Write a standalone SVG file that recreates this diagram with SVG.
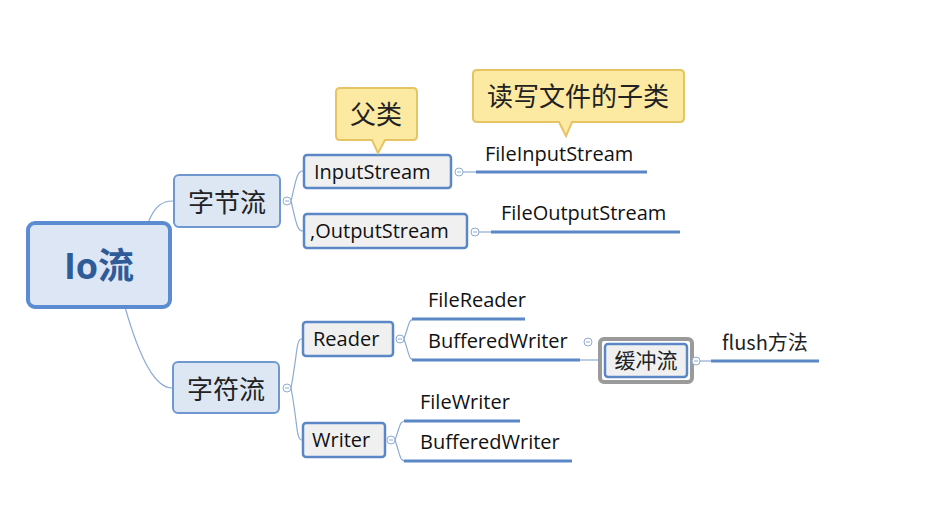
<svg xmlns="http://www.w3.org/2000/svg" width="950" height="510" viewBox="0 0 950 510">
<style>
.t{font-family:"Open Sans","Noto Sans CJK SC",sans-serif;fill:#111;}
.cn{font-family:"Noto Sans CJK SC",sans-serif;fill:#222;}
.conn{fill:none;stroke:#8eabd3;stroke-width:1.2;}
.leaf{stroke:#5b87c6;stroke-width:3;}
.box2{fill:#f0f0f0;stroke:#5b87c6;stroke-width:2.5;}
.box1{fill:#dde7f4;stroke:#6f98d0;stroke-width:2;}
.call{fill:#fdeaa2;stroke:#e7c463;stroke-width:2;}
.col circle{fill:#fff;stroke:#8eabd3;stroke-width:1;}
.col line{stroke:#8eabd3;stroke-width:1;}
</style>
<rect width="950" height="510" fill="#fff"/>
<g id="connectors">
<path class="conn" d="M148,223 C155,205 163,201 173,201"/>
<path class="conn" d="M125,307 C140,360 155,388 172,388"/>
<path class="conn" d="M291,201 C296,180 297,171 303,171"/>
<path class="conn" d="M291,201 C296,222 297,231 303,231"/>
<path class="conn" d="M291,388 C298,350 296,339 302,339"/>
<path class="conn" d="M291,388 C298,425 296,440 302,440"/>
<path class="conn" d="M404,339 C410,322 408,319 416,319"/>
<path class="conn" d="M404,339 C410,356 408,360 416,360"/>
<path class="conn" d="M395,440 C401,424 399,421 407,421"/>
<path class="conn" d="M395,440 C401,457 399,461 407,461"/>
<line class="conn" x1="463" y1="172" x2="478" y2="172"/>
<line class="conn" x1="479" y1="232" x2="493" y2="232"/>
<line class="conn" x1="580" y1="360" x2="602" y2="360"/>
<line class="conn" x1="700" y1="361" x2="712" y2="361"/>
</g>
<g id="root">
<rect x="28" y="223" width="142" height="84" rx="7" fill="#dce6f4" stroke="#5b8bd0" stroke-width="4"/>
<text x="99" y="279" text-anchor="middle" font-family="'Open Sans','Noto Sans CJK SC',sans-serif" font-weight="bold" font-size="36" fill="#2f5b98">Io流</text>
</g>
<g id="zijieliu">
<rect class="box1" x="174" y="175" width="106" height="52" rx="5"/>
<text class="cn" x="227" y="212" text-anchor="middle" font-size="26">字节流</text>
</g>
<g id="zifuliu">
<rect class="box1" x="173" y="362" width="106" height="51" rx="5"/>
<text class="cn" x="226" y="399" text-anchor="middle" font-size="26">字符流</text>
</g>
<g id="inputstream">
<rect class="box2" x="304" y="155" width="147" height="33" rx="3"/>
<text class="t" x="314" y="179" font-size="20">InputStream</text>
</g>
<g id="outputstream">
<rect class="box2" x="304" y="214" width="163" height="34" rx="3"/>
<text class="t" x="310" y="238" font-size="20">,OutputStream</text>
</g>
<g id="reader">
<rect class="box2" x="303" y="322" width="90" height="34" rx="3"/>
<text class="t" x="313" y="346" font-size="20">Reader</text>
</g>
<g id="writer">
<rect class="box2" x="303" y="423" width="82" height="34" rx="3"/>
<text class="t" x="312" y="447" font-size="20">Writer</text>
</g>
<g id="huanchongliu">
<rect x="600" y="339" width="92" height="43" rx="4" fill="none" stroke="#9a9a9a" stroke-width="4"/>
<rect x="605" y="344" width="82" height="33" rx="3" fill="#f0f0f0" stroke="#5b87c6" stroke-width="2.5"/>
<text class="cn" x="646" y="368" text-anchor="middle" font-size="21">缓冲流</text>
</g>
<g id="fileinputstream">
<text class="t" x="485" y="161" font-size="20">FileInputStream</text>
<line class="leaf" x1="476" y1="172" x2="647" y2="172"/>
</g>
<g id="fileoutputstream">
<text class="t" x="501" y="220" font-size="20">FileOutputStream</text>
<line class="leaf" x1="491" y1="232" x2="680" y2="232"/>
</g>
<g id="filereader">
<text class="t" x="428" y="307" font-size="20">FileReader</text>
<line class="leaf" x1="412" y1="319" x2="525" y2="319"/>
</g>
<g id="bufferedwriter1">
<text class="t" x="428" y="348" font-size="20">BufferedWriter</text>
<line class="leaf" x1="412" y1="360" x2="580" y2="360"/>
</g>
<g id="flush">
<text class="cn" x="722" y="350" font-size="20">flush方法</text>
<line class="leaf" x1="711" y1="361" x2="819" y2="361"/>
</g>
<g id="filewriter">
<text class="t" x="420" y="409" font-size="20">FileWriter</text>
<line class="leaf" x1="404" y1="421" x2="520" y2="421"/>
</g>
<g id="bufferedwriter2">
<text class="t" x="420" y="449" font-size="20">BufferedWriter</text>
<line class="leaf" x1="404" y1="461" x2="572" y2="461"/>
</g>
<g id="callout-fulei">
<path class="call" d="M340,88 H413 Q417,88 417,92 V136 Q417,140 413,140 H385 L378,153 L372,140 H340 Q336,140 336,136 V92 Q336,88 340,88 Z"/>
<text class="cn" x="376" y="124" text-anchor="middle" font-size="26">父类</text>
</g>
<g id="callout-zilei">
<path class="call" d="M477,70 H680 Q684,70 684,74 V118 Q684,122 680,122 H572 L566,136 L559,122 H477 Q473,122 473,118 V74 Q473,70 477,70 Z"/>
<text class="cn" x="578" y="106" text-anchor="middle" font-size="26">读写文件的子类</text>
</g>
<g class="col">
<circle cx="287" cy="201" r="4"/><line x1="285" y1="201" x2="289" y2="201"/>
<circle cx="459" cy="172" r="4"/><line x1="457" y1="172" x2="461" y2="172"/>
<circle cx="475" cy="232" r="4"/><line x1="473" y1="232" x2="477" y2="232"/>
<circle cx="287" cy="388" r="4"/><line x1="285" y1="388" x2="289" y2="388"/>
<circle cx="400" cy="339" r="4"/><line x1="398" y1="339" x2="402" y2="339"/>
<circle cx="391" cy="440" r="4"/><line x1="389" y1="440" x2="393" y2="440"/>
<circle cx="588" cy="342" r="4"/><line x1="586" y1="342" x2="590" y2="342"/>
<circle cx="696" cy="361" r="4"/><line x1="694" y1="361" x2="698" y2="361"/>
</g>
</svg>
